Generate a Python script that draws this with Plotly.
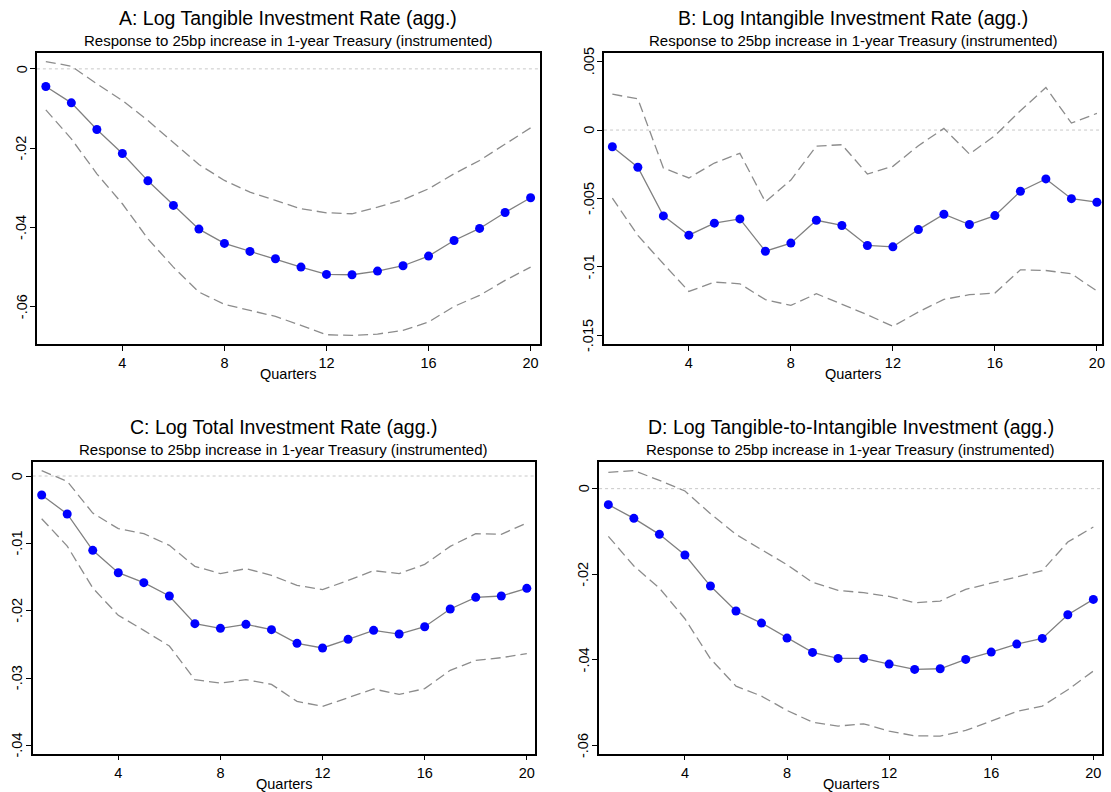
import plotly.graph_objects as go

quarters = list(range(1, 21))
x_ticks = [4, 8, 12, 16, 20]

# Panel A
a_title = "A: Log Tangible Investment Rate (agg.)"
a_est = [-0.00445, -0.00857, -0.01529, -0.02134, -0.02824, -0.03445, -0.04042, -0.04403, -0.04605, -0.04790,
         -0.05000, -0.05185, -0.05193, -0.05101, -0.04966, -0.04723, -0.04328, -0.04025, -0.03622, -0.03252]
a_hi = [0.00185, 0.00067, -0.00378, -0.00798, -0.01303, -0.01849, -0.02412, -0.02815, -0.03109, -0.03319,
        -0.03529, -0.03630, -0.03655, -0.03487, -0.03303, -0.03025, -0.02647, -0.02311, -0.01891, -0.01487]
a_lo = [-0.01034, -0.01765, -0.02647, -0.03403, -0.04286, -0.05000, -0.05630, -0.05941, -0.06092, -0.06244,
        -0.06470, -0.06706, -0.06723, -0.06689, -0.06597, -0.06387, -0.05992, -0.05714, -0.05336, -0.05000]
a_yticks = [0, -0.02, -0.04, -0.06]
a_ylabels = ["0", "-.02", "-.04", "-.06"]

# Panel B
b_title = "B: Log Intangible Investment Rate (agg.)"
b_est = [-0.00122, -0.00272, -0.00627, -0.00768, -0.00680, -0.00649, -0.00885, -0.00826, -0.00659, -0.00697,
         -0.00843, -0.00853, -0.00727, -0.00615, -0.00690, -0.00625, -0.00447, -0.00357, -0.00501, -0.00527]
b_hi = [0.00262, 0.00228, -0.00277, -0.00350, -0.00241, -0.00170, -0.00525, -0.00365, -0.00117, -0.00107,
        -0.00321, -0.00265, -0.00114, 0.00012, -0.00175, -0.00041, 0.00141, 0.00311, 0.00051, 0.00122]
b_lo = [-0.00498, -0.00770, -0.00977, -0.01179, -0.01111, -0.01123, -0.01239, -0.01281, -0.01196, -0.01273,
        -0.01349, -0.01434, -0.01329, -0.01237, -0.01203, -0.01191, -0.01021, -0.01026, -0.01050, -0.01176]
b_yticks = [0.005, 0, -0.005, -0.01, -0.015]
b_ylabels = [".005", "0", "-.005", "-.01", "-.015"]

# Panel C
c_title = "C: Log Total Investment Rate (agg.)"
c_est = [-0.00282, -0.00564, -0.01104, -0.01436, -0.01584, -0.01782, -0.02193, -0.02262, -0.02203, -0.02282,
         -0.02485, -0.02554, -0.02426, -0.02292, -0.02347, -0.02238, -0.01975, -0.01802, -0.01782, -0.01668]
c_hi = [0.00079, -0.00079, -0.00550, -0.00782, -0.00856, -0.01030, -0.01342, -0.01450, -0.01376, -0.01475,
        -0.01624, -0.01688, -0.01550, -0.01406, -0.01450, -0.01312, -0.01045, -0.00856, -0.00866, -0.00698]
c_lo = [-0.00634, -0.01040, -0.01663, -0.02069, -0.02292, -0.02525, -0.03025, -0.03074, -0.03025, -0.03094,
        -0.03347, -0.03421, -0.03292, -0.03163, -0.03243, -0.03158, -0.02886, -0.02738, -0.02698, -0.02639]
c_yticks = [0, -0.01, -0.02, -0.03, -0.04]
c_ylabels = ["0", "-.01", "-.02", "-.03", "-.04"]

# Panel D
d_title = "D: Log Tangible-to-Intangible Investment (agg.)"
d_est = [-0.00374, -0.00694, -0.01068, -0.01551, -0.02276, -0.02860, -0.03141, -0.03492, -0.03827, -0.03967,
         -0.03967, -0.04100, -0.04224, -0.04209, -0.03991, -0.03819, -0.03632, -0.03500, -0.02946, -0.02588]
d_hi = [0.00382, 0.00421, 0.00195, -0.00055, -0.00585, -0.01068, -0.01426, -0.01777, -0.02190, -0.02377,
        -0.02432, -0.02518, -0.02666, -0.02627, -0.02354, -0.02206, -0.02066, -0.01917, -0.01247, -0.00896]
d_lo = [-0.01115, -0.01808, -0.02323, -0.03040, -0.03975, -0.04614, -0.04848, -0.05183, -0.05456, -0.05549,
        -0.05495, -0.05666, -0.05776, -0.05783, -0.05651, -0.05432, -0.05206, -0.05082, -0.04700, -0.04263]
d_yticks = [0, -0.02, -0.04, -0.06]
d_ylabels = ["0", "-.02", "-.04", "-.06"]

subtitle = "Response to 25bp increase in 1-year Treasury (instrumented)"
x_label = "Quarters"

W, H = 1111, 792
FONT = "Liberation Sans, Arial, sans-serif"

panels = [
    dict(title=a_title, est=a_est, hi=a_hi, lo=a_lo, yt=a_yticks, yl=a_ylabels,
         box=(37, 541, 53, 344), xr=[0.65, 20.35], yr=[-0.0694, 0.0040]),
    dict(title=b_title, est=b_est, hi=b_hi, lo=b_lo, yt=b_yticks, yl=b_ylabels,
         box=(605.7, 1105, 53, 344), xr=[0.675, 20.2], yr=[-0.01563, 0.00563]),
    dict(title=c_title, est=c_est, hi=c_hi, lo=c_lo, yt=c_yticks, yl=c_ylabels,
         box=(32.7, 536.7, 462, 753.7), xr=[0.645, 20.33], yr=[-0.04124, 0.00208]),
    dict(title=d_title, est=d_est, hi=d_hi, lo=d_lo, yt=d_yticks, yl=d_ylabels,
         box=(600.7, 1105, 462, 753.7), xr=[0.637, 20.34], yr=[-0.06194, 0.00623]),
]

fig = go.Figure()
annotations = []
for i, p in enumerate(panels, start=1):
    xa = "x" if i == 1 else f"x{i}"
    ya = "y" if i == 1 else f"y{i}"
    x0, x1, yt_px, yb_px = p["box"]
    # zero line
    fig.add_trace(go.Scatter(x=[p["xr"][0], p["xr"][1]], y=[0, 0], mode="lines",
                             line=dict(color="#c8c8c8", width=1, dash="dot"),
                             xaxis=xa, yaxis=ya, showlegend=False, hoverinfo="skip"))
    for band in (p["hi"], p["lo"]):
        fig.add_trace(go.Scatter(x=quarters, y=band, mode="lines",
                                 line=dict(color="#8c8c8c", width=1.3, dash="10px,5px"),
                                 xaxis=xa, yaxis=ya, showlegend=False))
    fig.add_trace(go.Scatter(x=quarters, y=p["est"], mode="lines+markers",
                             line=dict(color="#808080", width=1.3),
                             marker=dict(color="#0000ff", size=9),
                             xaxis=xa, yaxis=ya, showlegend=False))
    axis_common = dict(showline=True, linecolor="black", linewidth=1.5, mirror=True,
                       ticks="outside", ticklen=5, tickwidth=1, tickcolor="black",
                       showgrid=False, zeroline=False,
                       tickfont=dict(family=FONT, size=14.5, color="black"))
    xdom = [x0 / W, x1 / W]
    ydom = [1 - yb_px / H, 1 - yt_px / H]
    fig.layout[f"xaxis{'' if i == 1 else i}"] = dict(
        domain=xdom, range=p["xr"], tickvals=x_ticks, anchor=ya, **axis_common)
    fig.layout[f"yaxis{'' if i == 1 else i}"] = dict(
        domain=ydom, range=p["yr"], tickvals=p["yt"], showticklabels=False,
        anchor=xa, **axis_common)
    # rotated y tick labels, placed on the axis scale
    for v, lab in zip(p["yt"], p["yl"]):
        annotations.append(dict(text=lab, x=(x0 - 15.5) / W, y=v, xref="paper", yref=ya,
                                xanchor="center", yanchor="middle", textangle=-90, showarrow=False,
                                font=dict(family=FONT, size=14.5, color="black")))
    cx = (x0 + x1) / 2 / W
    annotations.append(dict(text=p["title"], x=cx, y=1 - (yt_px - 34.7) / H, xref="paper", yref="paper",
                            xanchor="center", yanchor="middle", showarrow=False,
                            font=dict(family=FONT, size=19.5, color="black")))
    annotations.append(dict(text=subtitle, x=cx, y=1 - (yt_px - 12.3) / H, xref="paper", yref="paper",
                            xanchor="center", yanchor="middle", showarrow=False,
                            font=dict(family=FONT, size=15, color="black")))
    annotations.append(dict(text=x_label, x=cx, y=1 - (yb_px + 30) / H, xref="paper", yref="paper",
                            xanchor="center", yanchor="middle", showarrow=False,
                            font=dict(family=FONT, size=14.5, color="black")))

fig.update_layout(width=W, height=H, margin=dict(l=0, r=0, t=0, b=0),
                  paper_bgcolor="white", plot_bgcolor="white",
                  annotations=annotations, font=dict(family=FONT, color="black"))

fig.write_html("out.html", config={"displayModeBar": False},
               post_script="document.body.style.margin='0';document.body.style.overflow='hidden';")
